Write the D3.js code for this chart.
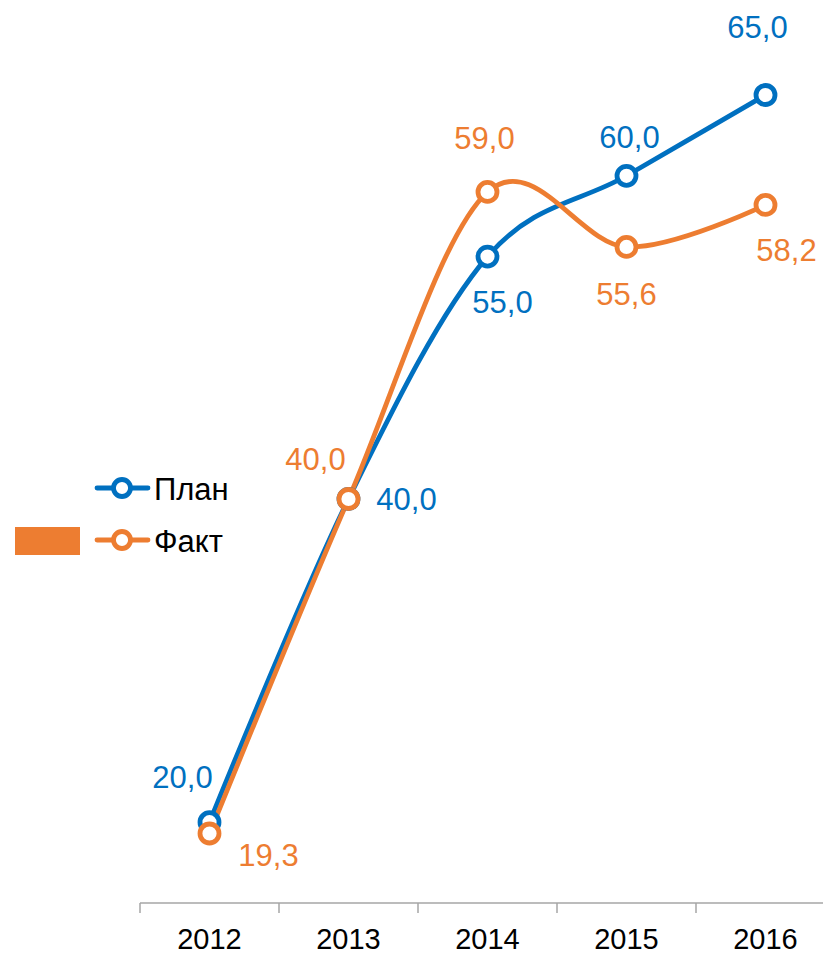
<!DOCTYPE html>
<html><head><meta charset="utf-8">
<script src="https://cdn.jsdelivr.net/npm/d3@7"></script>
<style>html,body{margin:0;padding:0;background:#fff;}svg{display:block;font-family:"Liberation Sans",Arial,sans-serif;}</style>
</head><body>
<svg id="c" width="823" height="956"></svg>
<script>
const years = ["2012","2013","2014","2015","2016"];
const planValues = [20.0, 40.0, 55.0, 60.0, 65.0];
const factValues = [19.3, 40.0, 59.0, 55.6, 58.2];
const seriesNames = ["План","Факт"];

// label placement offsets (px) relative to points
const planLabelOffsets = [[-27,-45],[58,0],[15,46],[3,-38],[-8,-68]];
const factLabelOffsets = [[59,22],[-33,-40],[-3,-53],[0,48],[21,46]];

const colors = {plan:"#0070C0", fact:"#ED7D31"};
const svg = d3.select("#c");
const x = d3.scaleBand().domain(years).range([140, 835]);
const y = d3.scaleLinear().domain([15, 65]).range([903, 95]);
const cx = d => x(d) + x.bandwidth()/2;

// axis
const axisG = svg.append("g").attr("transform","translate(0,903)");
axisG.append("line").attr("x1",140).attr("x2",823).attr("stroke","#a6a6a6").attr("stroke-width",1.5);
const bounds = years.map(d => x(d)).concat([x.range()[1]]);
axisG.selectAll("line.t").data(bounds).enter().append("line").attr("class","t")
  .attr("x1",d=>d).attr("x2",d=>d).attr("y1",0).attr("y2",10)
  .attr("stroke","#a6a6a6").attr("stroke-width",1.5);
axisG.selectAll("text").data(years).enter().append("text")
  .attr("x",d=>cx(d)).attr("y",46).attr("text-anchor","middle")
  .attr("font-size",29).attr("fill","#000").text(d=>d);

const line = d3.line().x(d=>cx(d.year)).y(d=>y(d.v)).curve(d3.curveCardinal.tension(0));
function drawSeries(vals, color){
  const data = years.map((yr,i)=>({year:yr, v:vals[i]}));
  svg.append("path").datum(data).attr("d",line).attr("fill","none")
    .attr("stroke",color).attr("stroke-width",4.8).attr("stroke-linejoin","round");
  return data;
}
const pd = drawSeries(planValues, colors.plan);
const fd = drawSeries(factValues, colors.fact);
function markers(data,color){
  svg.selectAll(null).data(data).enter().append("circle")
    .attr("cx",d=>cx(d.year)).attr("cy",d=>y(d.v)).attr("r",9.5)
    .attr("fill","#fff").attr("stroke",color).attr("stroke-width",4.8);
}
markers(pd, colors.plan);
markers(fd, colors.fact);
const fmt = v => d3.format(".1f")(v).replace(".",",");
function labels(data,color,offs){
  svg.selectAll(null).data(data).enter().append("text")
    .attr("x",(d,i)=>cx(d.year)+offs[i][0]).attr("y",(d,i)=>y(d.v)+offs[i][1])
    .attr("text-anchor","middle").attr("dominant-baseline","central")
    .attr("font-size",31).attr("fill",color).text(d=>fmt(d.v));
}
labels(pd, colors.plan, planLabelOffsets);
labels(fd, colors.fact, factLabelOffsets);

// legend
const legend = [{name:seriesNames[0], color:colors.plan, y:488},{name:seriesNames[1], color:colors.fact, y:540}];
svg.append("rect").attr("x",15).attr("y",527).attr("width",65).attr("height",28).attr("fill",colors.fact);
const lg = svg.selectAll("g.lg").data(legend).enter().append("g").attr("class","lg")
  .attr("transform",d=>`translate(0,${d.y})`);
lg.append("line").attr("x1",97).attr("x2",148).attr("stroke",d=>d.color).attr("stroke-width",4.8).attr("stroke-linecap","round");
lg.append("circle").attr("cx",122).attr("r",8.5).attr("fill","#fff").attr("stroke",d=>d.color).attr("stroke-width",4.8);
lg.append("text").attr("x",154).attr("y",1).attr("dominant-baseline","central").attr("font-size",31).attr("fill","#000").text(d=>d.name);
</script>
</body></html>
